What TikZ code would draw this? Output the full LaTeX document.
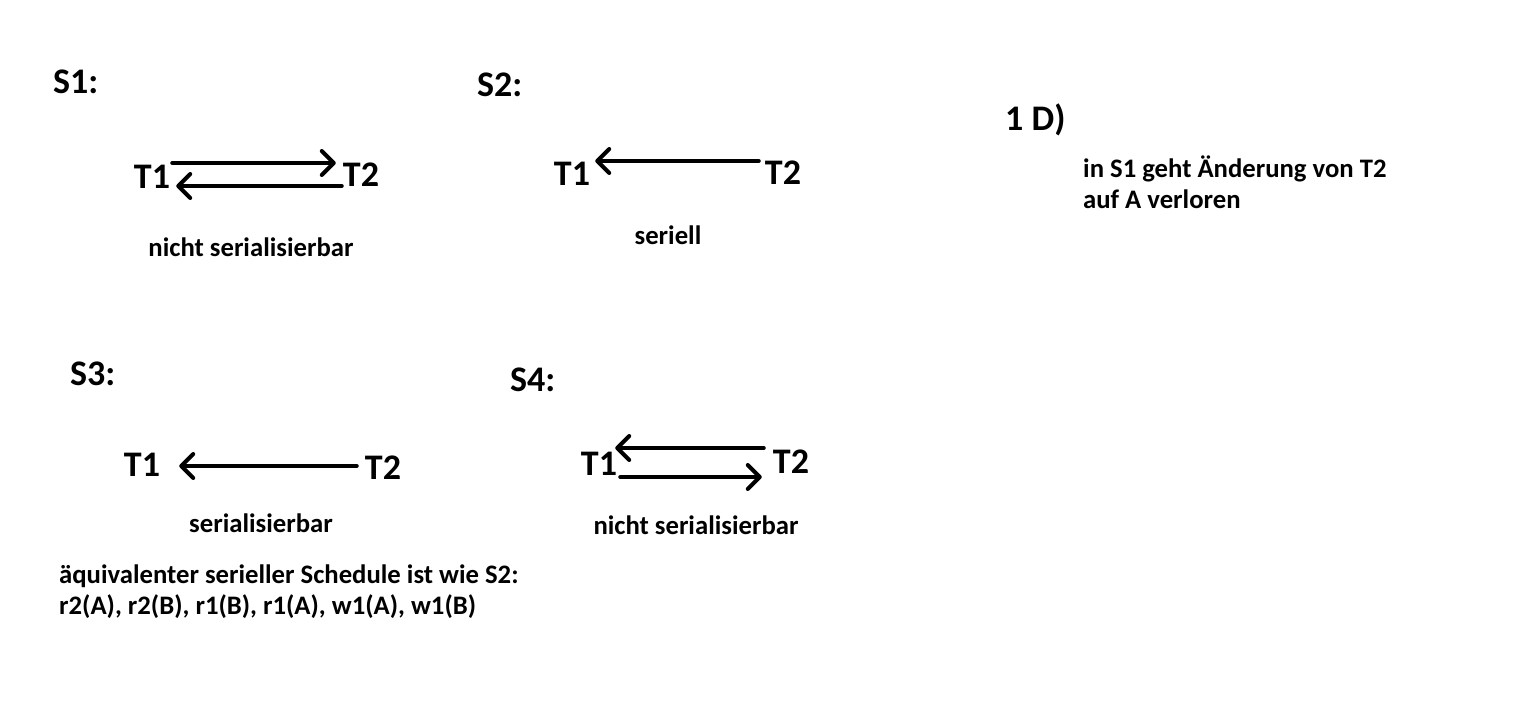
\documentclass[tikz,border=0pt]{standalone}
\usepackage{fontspec}
\setmainfont{Carlito}
\usetikzlibrary{arrows.meta}

\begin{document}
\begin{tikzpicture}[x=1pt,y=-1pt,
  big/.style={font=\fontsize{36}{40}\selectfont\bfseries, inner sep=0pt},
  small/.style={font=\fontsize{26.7}{31}\selectfont\bfseries, inner sep=0pt, align=left},
  dep/.style={line width=4pt, line cap=round, line join=round,
    -{Straight Barb[length=12pt,width=24pt,round]}}]
\useasboundingbox (0,0) rectangle (1535,725);

% S1
\node[big, anchor=west] (s1) at (53,82) {S1:};
\node[big] (s1t1) at (152,177) {T1};
\node[big] (s1t2) at (361,175) {T2};
\draw[dep] ([xshift=2pt,yshift=14pt]s1t1.east) -- ([xshift=-7pt,yshift=12pt]s1t2.west);
\draw[dep] ([xshift=-1pt,yshift=-11pt]s1t2.west) -- ([xshift=6pt,yshift=-9pt]s1t1.east);
\node[small] (s1lab) at (251,247) {nicht serialisierbar};

% S2
\node[big, anchor=west] (s2) at (477,85) {S2:};
\node[big] (s2t1) at (572,174) {T1};
\node[big] (s2t2) at (783,173) {T2};
\draw[dep] ([xshift=-6pt,yshift=12pt]s2t2.west) -- ([xshift=5pt,yshift=13pt]s2t1.east);
\node[small] (s2lab) at (668,235) {seriell};

% S3
\node[big, anchor=west] (s3) at (70,374) {S3:};
\node[big] (s3t1) at (142,465) {T1};
\node[big] (s3t2) at (383,468) {T2};
\draw[dep] ([xshift=-8pt,yshift=2pt]s3t2.west) -- ([xshift=19pt,yshift=-1pt]s3t1.east);
\node[small] (s3lab) at (261,523) {serialisierbar};
\node[small, anchor=north west] (s3txt) at (59,565)
  {äquivalenter serieller Schedule ist wie S2:\\ r2(A), r2(B), r1(B), r1(A), w1(A), w1(B)};

% S4
\node[big, anchor=west] (s4) at (510,380) {S4:};
\node[big] (s4t1) at (599,464) {T1};
\node[big] (s4t2) at (791,462) {T2};
\draw[dep] ([xshift=-9pt,yshift=14pt]s4t2.west) -- ([xshift=-2pt,yshift=16pt]s4t1.east);
\draw[dep] ([xshift=3pt,yshift=-13pt]s4t1.east) -- ([xshift=-11pt,yshift=-15pt]s4t2.west);
\node[small] (s4lab) at (696,525) {nicht serialisierbar};

% 1 D)
\node[big, anchor=west] (d1) at (1005,120) {1 D)};
\node[small, anchor=north west] (d1txt) at (1083,156)
  {in S1 geht Änderung von T2\\ auf A verloren};
\end{tikzpicture}
\end{document}
